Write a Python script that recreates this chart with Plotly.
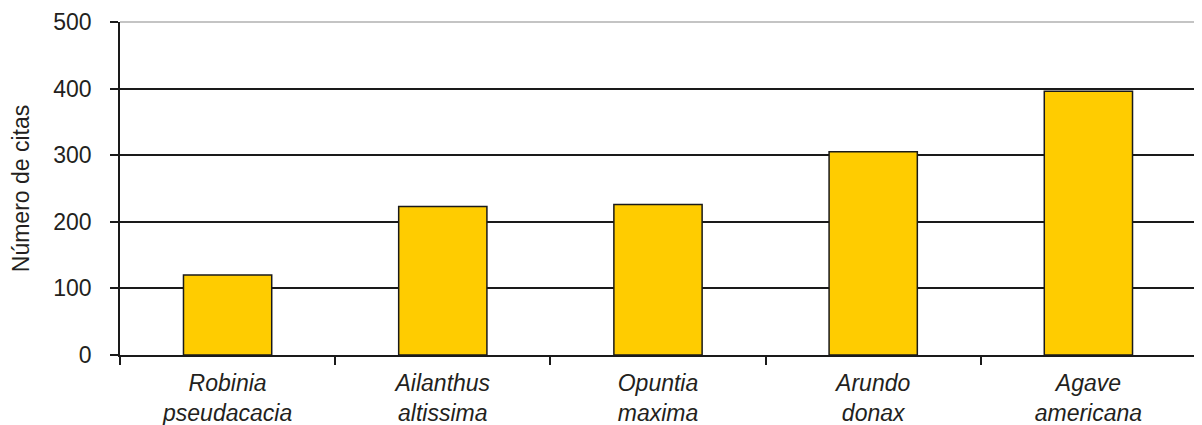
import plotly.graph_objects as go

species = ["Robinia<br>pseudacacia", "Ailanthus<br>altissima", "Opuntia<br>maxima",
           "Arundo<br>donax", "Agave<br>americana"]
citas = [120, 223, 226, 305, 396]
y_ticks = [0, 100, 200, 300, 400, 500]

labels = ["<i>" + s + "</i>" for s in species]

fig = go.Figure()
fig.add_trace(go.Bar(
    x=labels, y=citas,
    marker=dict(color="#FFCC00", line=dict(color="#1a1a1a", width=1.5)),
    width=0.41,
))

font = "Liberation Sans, Arial, Helvetica, sans-serif"
fs = 23
fig.update_layout(
    width=1194, height=417,
    margin=dict(l=112, r=6, t=14, b=70),
    plot_bgcolor="white", paper_bgcolor="white",
    font=dict(family=font, size=fs, color="#231f20"),
    showlegend=False,
    xaxis=dict(
        showline=True, linecolor="#1a1a1a", linewidth=1.5,
        ticks="outside", tickson="boundaries", ticklen=8, tickwidth=1.5,
        tickcolor="#1a1a1a", showgrid=False, automargin=False,
        tickfont=dict(size=fs), ticklabelstandoff=7,
    ),
    yaxis=dict(
        range=[0, 500], tickvals=y_ticks, automargin=False,
        showline=True, linecolor="#1a1a1a", linewidth=1.5,
        ticks="outside", ticklen=8, tickwidth=1.5, tickcolor="#1a1a1a",
        showgrid=True, gridcolor="#1a1a1a", gridwidth=1.5,
        zeroline=False, ticklabelstandoff=14,
        title=dict(text="Número de citas", font=dict(size=fs), standoff=20),
        tickfont=dict(size=fs),
    ),
    shapes=[
        dict(type="line", xref="paper", yref="paper", x0=0, x1=1, y0=1, y1=1,
             line=dict(color="#b0b0b0", width=1.5), layer="above"),
        dict(type="line", xref="paper", yref="paper", x0=1, x1=1, y0=0, y1=1,
             line=dict(color="#b0b0b0", width=1.5), layer="above"),
    ],
)

fig.write_html("out.html")
